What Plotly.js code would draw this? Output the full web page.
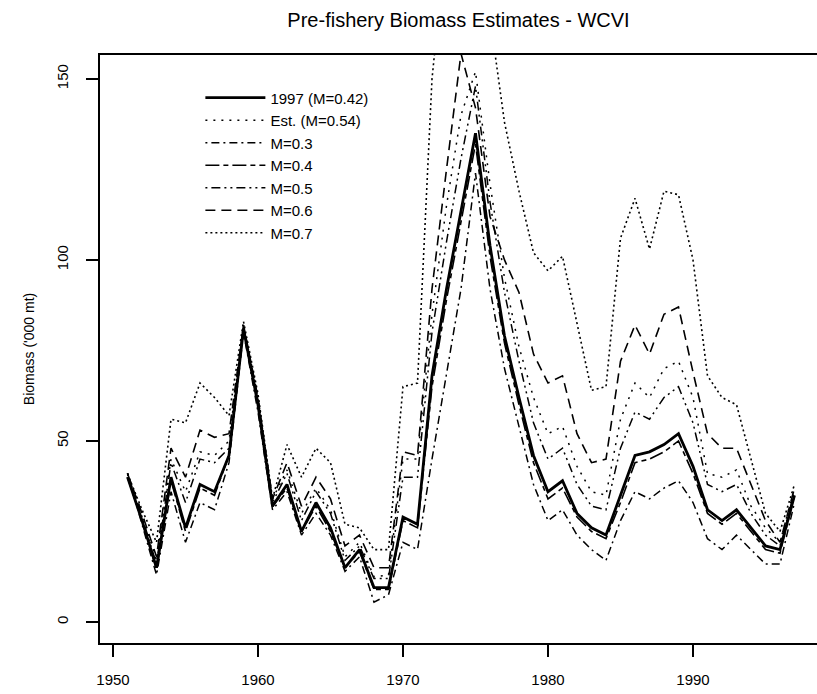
<!DOCTYPE html>
<html>
<head>
<meta charset="utf-8">
<script src="https://cdn.plot.ly/plotly-3.0.1.min.js"></script>
<style>
html,body{margin:0;padding:0;background:#fff;overflow:hidden;}
#chart{width:817px;height:694px;}
</style>
</head>
<body>
<div id="chart"></div>
<script>
var years = [1951,1952,1953,1954,1955,1956,1957,1958,1959,1960,
             1961,1962,1963,1964,1965,1966,1967,1968,1969,1970,
             1971,1972,1973,1974,1975,1976,1977,1978,1979,1980,
             1981,1982,1983,1984,1985,1986,1987,1988,1989,1990,
             1991,1992,1993,1994,1995,1996,1997];

var seriesNames = ["1997 (M=0.42)","Est. (M=0.54)","M=0.3","M=0.4","M=0.5","M=0.6","M=0.7"];

var b1997 = [40,28,15,40,26,38,36,46,81,60,
             32,38,25,33,26,15,20,9.5,9.5,29,
             27,68,92,114,135,104,79,62,46,36,
             39,30,26,24,35,46,47,49,52,43,
             31,28,31,26,21,20,35];

var bEst  = [41,30,17,45,36,47,46,50,82,62,
             34,42,30,37,31,18,22,12.5,13,45,
             45,85,115,140,152,121,95,76,62,52,
             54,43,36,35,56,66,62,70,72,62,
             41,40,42,32,26,22,37];

var bM03  = [41,27,13,36,22,33,31,44,80,58,
             31,36,24,30,24,14,18,5.5,7.5,22,
             20,45,68,92,124,92,70,54,38,28,
             31,24,20,17,28,36,34,37,39,33,
             23,20,24,20,16,16,33];

var bM04  = [40,28,14.5,39,25,37,35,46,81,60,
             32,37,25,32,25,15,19.5,9,9,28,
             26,65,89,110,132,101,77,60,44,34,
             37,29,25,23,33,44,45,47,50,41,
             30,27,30,25,20,19,35];

var bM05  = [41,29,16,44,33,45,44,48,81,61,
             33,41,28,36,30,17,21,12,12,40,
             40,80,105,128,148,116,91,72,55,45,
             48,38,32,31,48,58,56,62,65,55,
             38,36,38,30,24,21,36];

var bM06  = [41,30,18,48,40,53,51,52,82,62,
             34,44,32,40,34,21,24,15,15,47,
             46,92,125,157,142,112,100,91,74,66,
             68,52,44,45,72,82,74,85,87,69,
             52,48,48,38,28,22,37];

var bM07  = [41,31,22,56,55,66,62,57,83,63,
             34,49,40,48,44,27,26,20,20,65,
             66,150,190,200,190,167,138,119,102,97,
             101,82,64,65,106,117,103,119,118,100,
             68,62,60,45,30,25,38];

var xTicks = [1950,1960,1970,1980,1990];
var yTicks = [0,50,100,150];

var values = [b1997,bEst,bM03,bM04,bM05,bM06,bM07];
var dashes = ["solid","2px,6px","2px,4px,8px,4px","14px,4px,5px,4px","2px,4px,9px,4px,2px,4px","10px,6px","2px,3px"];
var widths = [2.8,1.5,1.5,1.6,1.5,1.6,1.6];

var traces = values.map(function(v,i){
  return {
    x: years, y: v, type: "scatter", mode: "lines",
    name: seriesNames[i],
    line: {color: "#000", width: widths[i], dash: dashes[i]},
    hoverinfo: "skip"
  };
});

var FONT = "Liberation Sans, Arial, Helvetica, sans-serif";

var layout = {
  width: 817, height: 694,
  margin: {l: 100, r: 0, t: 55, b: 51, pad: 0},
  paper_bgcolor: "#fff", plot_bgcolor: "#fff",
  font: {family: FONT, color: "#000", size: 15},
  title: {
    text: "Pre-fishery Biomass Estimates - WCVI",
    font: {family: FONT, size: 20, color: "#000"},
    x: 0.5, xref: "paper", xanchor: "center",
    y: 0.971, yref: "container", yanchor: "middle"
  },
  showlegend: true,
  legend: {
    x: 0.14, y: 0.955, xanchor: "left", yanchor: "top",
    bgcolor: "rgba(0,0,0,0)", borderwidth: 0,
    font: {family: FONT, size: 15, color: "#000"},
    itemwidth: 60, tracegroupgap: 0
  },
  xaxis: {
    range: [1949.103, 1998.552],
    showline: true, linecolor: "#000", linewidth: 1.8, mirror: true,
    showgrid: false, zeroline: false,
    ticks: "outside", ticklen: 12, tickwidth: 1.3, tickcolor: "#000",
    tickvals: xTicks, ticktext: xTicks.map(String),
    tickfont: {family: FONT, size: 15, color: "#000"},
    ticklabelstandoff: 10,
    fixedrange: true
  },
  yaxis: {
    range: [-5.8, 156.6],
    showline: true, linecolor: "#000", linewidth: 1.8, mirror: false,
    showgrid: false, zeroline: false,
    ticks: "outside", ticklen: 12, tickwidth: 1.3, tickcolor: "#000",
    tickvals: yTicks, ticktext: yTicks.map(String),
    tickangle: -90,
    tickfont: {family: FONT, size: 15, color: "#000"},
    ticklabelstandoff: 12,
    title: {text: "Biomass ('000 mt)", font: {family: FONT, size: 14, color: "#000"}, standoff: 16},
    automargin: false,
    fixedrange: true
  }
};

Plotly.newPlot("chart", traces, layout, {displayModeBar: false, staticPlot: true});
</script>
</body>
</html>
